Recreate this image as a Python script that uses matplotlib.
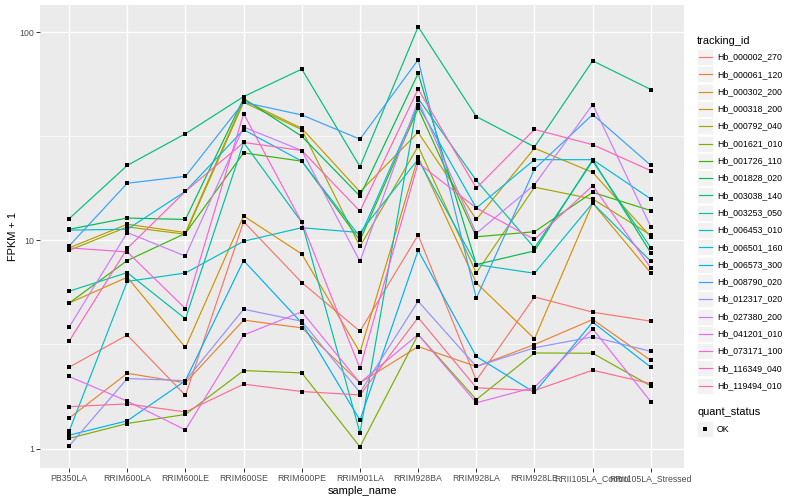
import matplotlib
matplotlib.use("Agg")
import matplotlib.pyplot as plt
from matplotlib.patches import Rectangle
import numpy as np

plt.rcParams['font.family'] = ['Liberation Sans', 'DejaVu Sans']

samples = ["PB350LA", "RRIM600LA", "RRIM600LE", "RRIM600SE", "RRIM600PE",
           "RRIM901LA", "RRIM928BA", "RRIM928LA", "RRIM928LE",
           "RRII105LA_Control", "RRII105LA_Stressed"]

tracking_ids = ["Hb_000002_270", "Hb_000061_120", "Hb_000302_200", "Hb_000318_200",
                "Hb_000792_040", "Hb_001621_010", "Hb_001726_110", "Hb_001828_020",
                "Hb_003038_140", "Hb_003253_050", "Hb_006453_010", "Hb_006501_160",
                "Hb_006573_300", "Hb_008790_020", "Hb_012317_020", "Hb_027380_200",
                "Hb_041201_010", "Hb_073171_100", "Hb_116349_040", "Hb_119494_010"]

hb_000002_270 = [2.46, 3.51, 1.80, 12.3, 6.27, 3.66, 10.6, 2.13, 5.35, 4.52, 4.09]
hb_000061_120 = [1.40, 2.30, 2.07, 4.14, 3.80, 2.07, 3.09, 2.48, 3.16, 4.17, 2.65]
hb_000302_200 = [5.0, 6.65, 3.06, 13.1, 8.6, 2.90, 25.1, 6.25, 3.37, 15.1, 6.97]
hb_000318_200 = [9.2, 11.95, 10.9, 47, 34.5, 17.1, 33, 12.6, 27.7, 21.2, 10.4]
hb_000792_040 = [8.95, 11.6, 10.7, 46, 34, 9.35, 28.3, 6.97, 18.0, 15.8, 10.6]
hb_001621_010 = [1.12, 1.32, 1.46, 2.37, 2.31, 1.02, 3.53, 1.72, 2.88, 2.87, 2.0]
hb_001726_110 = [5.0, 8.0, 10.8, 26.3, 24.0, 10.0, 43, 10.4, 11.0, 17.0, 13.9]
hb_001828_020 = [11.3, 12.8, 12.6, 48, 31.6, 16.3, 63.3, 7.65, 8.9, 24.4, 8.7]
hb_003038_140 = [12.7, 22.9, 32.5, 49, 66.4, 22.6, 106, 39.3, 28.1, 72.8, 53.0]
hb_003253_050 = [5.7, 7.0, 4.2, 29.5, 12.2, 1.19, 48, 19.4, 9.2, 24.0, 9.2]
hb_006453_010 = [1.21, 6.35, 6.97, 9.9, 11.5, 10.9, 24.5, 7.65, 6.95, 15.1, 7.93]
hb_006501_160 = [11.2, 11.3, 17.2, 34, 24.0, 10.4, 44.6, 14.3, 24.4, 24.4, 15.8]
hb_006573_300 = [1.16, 1.36, 2.12, 8.0, 4.01, 1.37, 8.95, 2.77, 1.86, 4.05, 2.46]
hb_008790_020 = [9.4, 18.8, 20.3, 46, 40.0, 30.6, 73.6, 5.27, 22.0, 40.2, 22.9]
hb_012317_020 = [1.03, 2.17, 2.12, 4.67, 4.09, 1.86, 5.1, 2.48, 3.05, 3.44, 2.93]
hb_027380_200 = [3.83, 10.9, 8.4, 35, 27.0, 7.93, 47, 10.8, 18.5, 44.9, 11.6]
hb_041201_010 = [2.22, 1.69, 1.23, 3.51, 4.54, 2.07, 3.53, 1.66, 1.97, 3.76, 1.68]
hb_073171_100 = [9.2, 8.8, 4.7, 40.6, 12.2, 2.43, 23.5, 14.3, 10.1, 18.3, 7.37]
hb_116349_040 = [3.28, 9.15, 17.2, 29.5, 27.0, 13.8, 53.3, 17.8, 34.1, 28.8, 21.6]
hb_119494_010 = [1.59, 1.64, 1.50, 2.04, 1.88, 1.81, 4.26, 1.96, 1.90, 2.38, 2.05]

series = [hb_000002_270, hb_000061_120, hb_000302_200, hb_000318_200, hb_000792_040,
          hb_001621_010, hb_001726_110, hb_001828_020, hb_003038_140, hb_003253_050,
          hb_006453_010, hb_006501_160, hb_006573_300, hb_008790_020, hb_012317_020,
          hb_027380_200, hb_041201_010, hb_073171_100, hb_116349_040, hb_119494_010]

colors = ["#F8766D", "#EA8331", "#D89000", "#C09B00", "#A3A500", "#7CAE00", "#39B600",
          "#00BB4E", "#00BF7D", "#00C1A3", "#00BFC4", "#00BAE0", "#00B0F6", "#35A2FF",
          "#9590FF", "#C77CFF", "#E76BF3", "#FA62DB", "#FF62BC", "#FF6C91"]

W, H = 800, 500
fig = plt.figure(figsize=(8, 5), dpi=100)
fig.patch.set_facecolor("white")

pl, pr, pt, pb = 40, 684, 5, 468
ax = fig.add_axes([pl / W, 1 - pb / H, (pr - pl) / W, (pb - pt) / H])
ax.set_facecolor("#EBEBEB")
x = np.arange(1, len(samples) + 1)

for vals, c in zip(series, colors):
    ax.plot(x, vals, color=c, lw=0.85, zorder=3, solid_capstyle="butt")
for vals in series:
    ax.plot(x, vals, ls="none", marker="s", ms=2.8, mew=0, color="black", zorder=4)

ax.set_yscale("log")
ax.set_ylim(10 ** -0.093, 10 ** 2.13)
ax.set_xlim(0.5, len(samples) + 0.57)
ax.set_yticks([1, 10, 100])
ax.set_yticklabels(["1", "10", "100"])
ax.set_yticks([10 ** 0.5, 10 ** 1.5], minor=True)
ax.yaxis.set_minor_formatter(matplotlib.ticker.NullFormatter())
ax.set_xticks(x)
ax.set_xticklabels(samples)
ax.grid(which="major", color="white", lw=1.0, zorder=1)
ax.grid(which="minor", axis="y", color="white", lw=0.5, zorder=1)
ax.set_axisbelow(True)
for s in ax.spines.values():
    s.set_visible(False)
ax.tick_params(axis="both", which="major", length=2.75, width=0.7, color="#333333",
               labelsize=6.3, labelcolor="#4D4D4D", pad=1.5)
ax.tick_params(axis="y", which="minor", length=0)
ax.set_xlabel("sample_name", fontsize=7.9, color="black", labelpad=2)
ax.set_ylabel("FPKM + 1", fontsize=7.9, color="black", labelpad=1)

# legend
lax = fig.add_axes([0, 0, 1, 1], facecolor="none")
lax.set_xlim(0, W)
lax.set_ylim(H, 0)
lax.axis("off")
lax.text(697, 41, "tracking_id", fontsize=7.9, va="center", ha="left")
y0, dy = 57, 17.3
for i, (tid, c) in enumerate(zip(tracking_ids, colors)):
    yc = y0 + i * dy
    lax.add_patch(Rectangle((697, yc - 8), 16, 16, facecolor="#F2F2F2", edgecolor="white", lw=0.5))
    lax.plot([698.5, 711.5], [yc, yc], color=c, lw=0.85)
    lax.text(717, yc, tid, fontsize=6.3, va="center", ha="left")
lax.text(697, 412, "quant_status", fontsize=7.9, va="center", ha="left")
lax.add_patch(Rectangle((697, 421), 16, 16, facecolor="#F2F2F2", edgecolor="white", lw=0.5))
lax.plot([705], [429], marker="s", ms=2.8, mew=0, color="black")
lax.text(717, 429, "OK", fontsize=6.3, va="center", ha="left")

fig.savefig("out.png", dpi=100)
